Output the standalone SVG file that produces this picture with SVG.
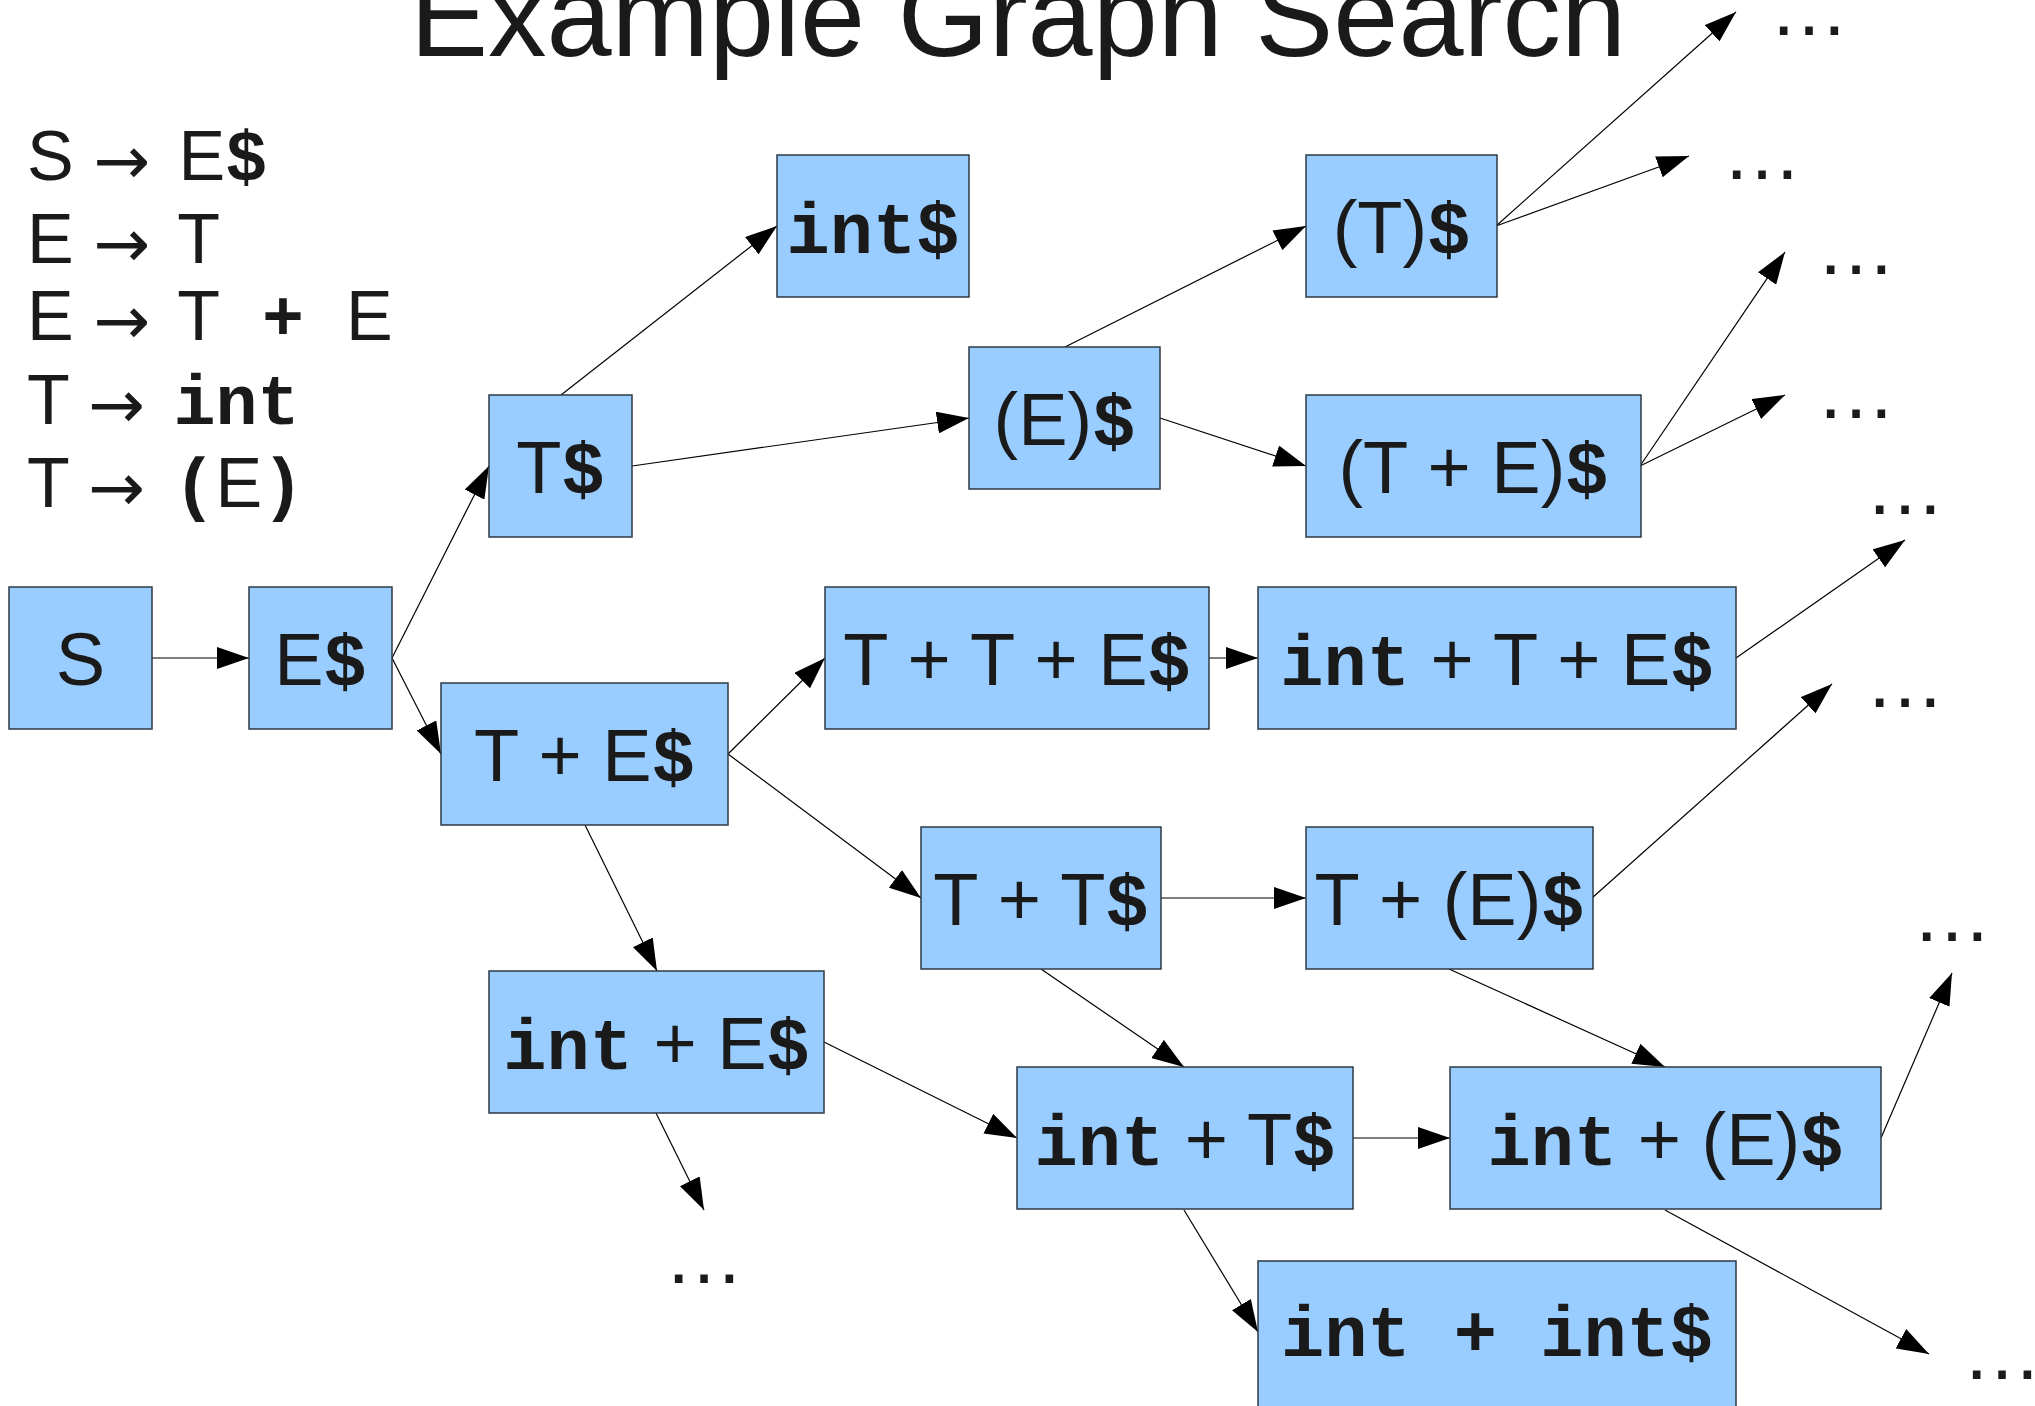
<svg xmlns="http://www.w3.org/2000/svg" width="2035" height="1406" viewBox="0 0 2035 1406">
<style>
text { fill: #1a1a1a; }
.s { font-family: "Liberation Sans", Arial, sans-serif; }
.m { font-family: "Liberation Mono", "Courier New", monospace; font-weight: bold; }
.n rect { fill: #99ccff; stroke: #2e3a46; stroke-width: 1.5; }
.n text { font-family: "Liberation Sans", Arial, sans-serif; font-size: 74px; text-anchor: middle; }
.n .m { font-size: 72px; }
.g { font-family: "Liberation Sans", Arial, sans-serif; font-size: 70px; }
.g .m { font-size: 70px; }
.g .a { font-family: "DejaVu Sans", sans-serif; font-size: 68px; }
.dots { font-family: "Liberation Sans", Arial, sans-serif; font-size: 80px; text-anchor: middle; }
#edges path { fill: none; stroke: #000; stroke-width: 1.2; marker-end: url(#ah); }
</style>
<defs>
<marker id="ah" markerUnits="userSpaceOnUse" markerWidth="32" markerHeight="22" refX="32" refY="11" orient="auto">
<path d="M0,0 L32,11 L0,22 Z" fill="#000"/>
</marker>
</defs>
<rect width="2035" height="1406" fill="#fff"/>
<text id="title" class="s" x="1018" y="56" font-size="117" text-anchor="middle">Example Graph Search</text>
<g id="grammar" class="g">
<text x="27" y="180">S <tspan class="a" dy="4">→</tspan><tspan dx="9" dy="-4"> E</tspan><tspan class="m">$</tspan></text>
<text x="27" y="263">E <tspan class="a" dy="4">→</tspan><tspan dx="9" dy="-4"> T</tspan></text>
<text x="27" y="340">E <tspan class="a" dy="4">→</tspan><tspan dx="9" dy="-4"> T</tspan><tspan class="m"> + </tspan>E</text>
<text x="27" y="424">T <tspan class="a" dy="4">→</tspan><tspan dx="9" dy="-4"> </tspan><tspan class="m">int</tspan></text>
<text x="27" y="507">T <tspan class="a" dy="4">→</tspan><tspan dx="9" dy="-4"> </tspan><tspan class="m">(</tspan>E<tspan class="m">)</tspan></text>
</g>
<g id="edges">
<path d="M152,658 L249,658"/>
<path d="M392,658 L489,466"/>
<path d="M392,658 L441,754"/>
<path d="M561,395 L777,226"/>
<path d="M632,466 L969,418"/>
<path d="M1065,347 L1306,226"/>
<path d="M1160,418 L1306,466"/>
<path d="M1496,226 L1736,12"/>
<path d="M1496,226 L1689,156"/>
<path d="M1640,466 L1785,252"/>
<path d="M1640,466 L1785,395"/>
<path d="M1736,658 L1905,540"/>
<path d="M1592,898 L1832,684"/>
<path d="M728,754 L825,658"/>
<path d="M728,754 L921,898"/>
<path d="M585,825 L657,971"/>
<path d="M1208,658 L1258,658"/>
<path d="M1160,898 L1306,898"/>
<path d="M1041,969 L1184,1067"/>
<path d="M1449,969 L1665,1067"/>
<path d="M824,1042 L1017,1138"/>
<path d="M656,1113 L704,1210"/>
<path d="M1352,1138 L1450,1138"/>
<path d="M1184,1210 L1258,1332"/>
<path d="M1881,1138 L1952,973"/>
<path d="M1665,1210 L1929,1354"/>
</g>
<g id="n-S" class="n"><rect x="9" y="587" width="143" height="142"/><text x="80.5" y="685">S</text></g>
<g id="n-Ed" class="n"><rect x="249" y="587" width="143" height="142"/><text x="320.5" y="685">E<tspan class="m">$</tspan></text></g>
<g id="n-Td" class="n"><rect x="489" y="395" width="143" height="142"/><text x="560.5" y="493">T<tspan class="m">$</tspan></text></g>
<g id="n-intd" class="n"><rect x="777" y="155" width="192" height="142"/><text x="873" y="253"><tspan class="m">int$</tspan></text></g>
<g id="n-pEpd" class="n"><rect x="969" y="347" width="191" height="142"/><text x="1064.5" y="445">(E)<tspan class="m">$</tspan></text></g>
<g id="n-pTpd" class="n"><rect x="1306" y="155" width="191" height="142"/><text x="1401.5" y="253">(T)<tspan class="m">$</tspan></text></g>
<g id="n-pTEpd" class="n"><rect x="1306" y="395" width="335" height="142"/><text x="1473.5" y="493">(T + E)<tspan class="m">$</tspan></text></g>
<g id="n-TEd" class="n"><rect x="441" y="683" width="287" height="142"/><text x="584.5" y="781">T + E<tspan class="m">$</tspan></text></g>
<g id="n-TTEd" class="n"><rect x="825" y="587" width="384" height="142"/><text x="1017" y="685">T + T + E<tspan class="m">$</tspan></text></g>
<g id="n-iTEd" class="n"><rect x="1258" y="587" width="478" height="142"/><text x="1497" y="685"><tspan class="m">int</tspan> + T + E<tspan class="m">$</tspan></text></g>
<g id="n-TTd" class="n"><rect x="921" y="827" width="240" height="142"/><text x="1041" y="925">T + T<tspan class="m">$</tspan></text></g>
<g id="n-TpEpd" class="n"><rect x="1306" y="827" width="287" height="142"/><text x="1449.5" y="925">T + (E)<tspan class="m">$</tspan></text></g>
<g id="n-iEd" class="n"><rect x="489" y="971" width="335" height="142"/><text x="656.5" y="1069"><tspan class="m">int</tspan> + E<tspan class="m">$</tspan></text></g>
<g id="n-iTd" class="n"><rect x="1017" y="1067" width="336" height="142"/><text x="1185" y="1165"><tspan class="m">int</tspan> + T<tspan class="m">$</tspan></text></g>
<g id="n-ipEpd" class="n"><rect x="1450" y="1067" width="431" height="142"/><text x="1665.5" y="1165"><tspan class="m">int</tspan> + (E)<tspan class="m">$</tspan></text></g>
<g id="n-iid" class="n"><rect x="1258" y="1261" width="478" height="150"/><text x="1497" y="1356"><tspan class="m">int + int$</tspan></text></g>
<g id="ellipses" class="dots">
<text x="1809" y="35">…</text>
<text x="1762" y="179">…</text>
<text x="1856" y="274">…</text>
<text x="1856" y="418">…</text>
<text x="1905" y="514">…</text>
<text x="1905" y="707">…</text>
<text x="1952" y="941">…</text>
<text x="2002" y="1379">…</text>
<text x="704" y="1283">…</text>
</g>
</svg>
